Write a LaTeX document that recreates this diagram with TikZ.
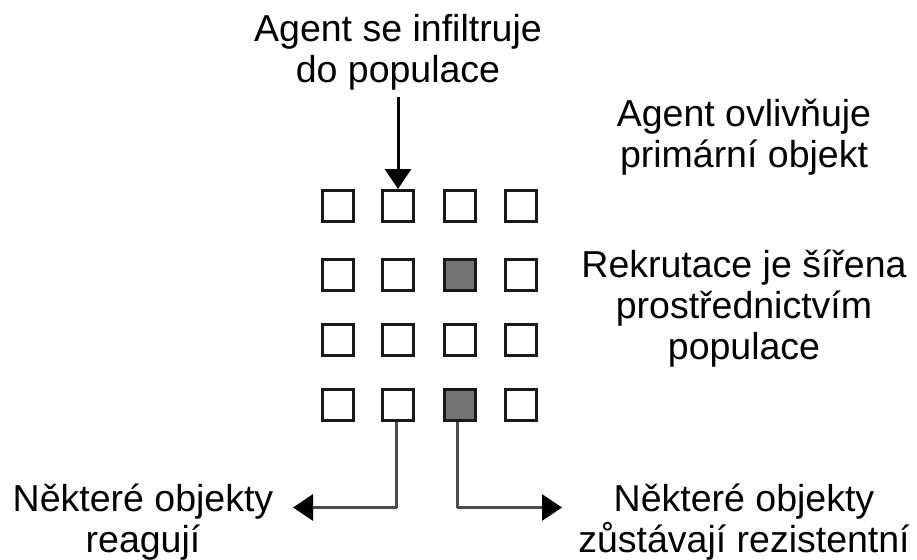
\documentclass[tikz,border=0pt]{standalone}
\usepackage{fontspec}
\setmainfont{Liberation Sans}
\usetikzlibrary{arrows.meta}
\begin{document}
\begin{tikzpicture}[x=1pt,y=-1pt,
  cell/.style={draw=black!90,line width=3pt,minimum size=31pt,inner sep=0pt,fill=white},
  dark/.style={cell,fill=black!55},
  lbl/.style={inner sep=0pt,anchor=base,align=center,font=\fontsize{37.5}{41}\selectfont},
  toparrow/.style={draw=black,line width=3pt,-{Triangle[length=20pt,width=26pt]}},
  botline/.style={draw=black!70,line width=3pt},
  botarrow/.style={botline,-{Triangle[length=20pt,width=26pt,color=black]}}]
\useasboundingbox (0,0) rectangle (917,559);
% grid
\foreach \c/\x in {1/338,2/398,3/460,4/521}{
  \foreach \r/\y in {1/206,2/275,3/340,4/404.5}{
    \node[cell] (s\r\c) at (\x,\y) {};
  }
}
\node[dark] (s23) at (460,275) {};
\node[dark] (s43) at (460,404.5) {};
% labels (anchor = baseline of last line)
\node[lbl] (ltop) at (398,83) {Agent se infiltruje\\do populace};
\node[lbl] (lagent) at (744,167) {Agent ovlivňuje\\primární objekt};
\node[lbl] (lrek) at (744,359) {Rekrutace je šířena\\prostřednictvím\\populace};
\node[lbl] (lreag) at (143,552) {Některé objekty\\reagují};
\node[lbl] (lres) at (744,552) {Některé objekty\\zůstávají rezistentní};
% arrows
\coordinate (tstart) at (398,97);
\draw[toparrow] (tstart) -- (s12.north);
\coordinate (lend) at (293,507.5);
\coordinate (rend) at (562,507.5);
\draw[botline] ([xshift=-1.5pt]s42.south) -- ([xshift=-1.5pt]s42.south |- lend);
\draw[botarrow] ([xshift=-1.5pt]s42.south |- lend) -- (lend);
\draw[botline] ([xshift=-3pt]s43.south) -- ([xshift=-3pt]s43.south |- rend);
\draw[botarrow] ([xshift=-3pt]s43.south |- rend) -- (rend);
\end{tikzpicture}
\end{document}
